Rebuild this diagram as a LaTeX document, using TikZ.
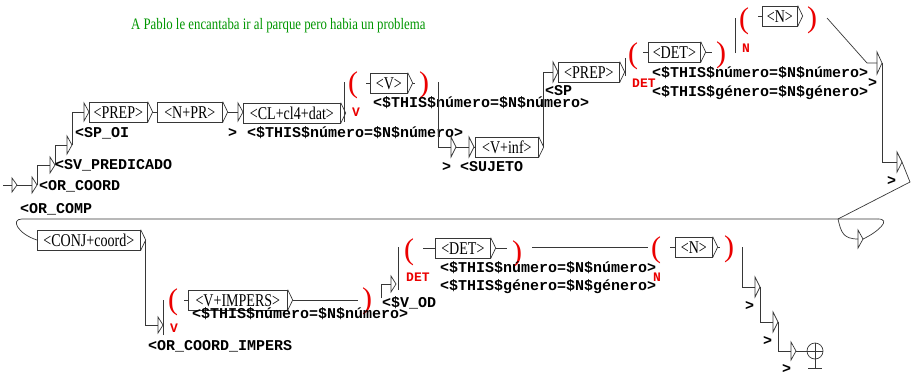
\documentclass[tikz,border=0pt]{standalone}
\usepackage{fontspec}
\setmainfont{Liberation Serif}
\newfontfamily\boxserif{Liberation Serif}[FakeStretch=0.78]
\newfontfamily\titleserif{Liberation Serif}[FakeStretch=0.8]
\newfontfamily\lmono{Liberation Mono}
\usetikzlibrary{calc}
\definecolor{ttlgreen}{RGB}{0,150,0}
\definecolor{lnc}{RGB}{55,55,55}
\definecolor{vred}{RGB}{235,0,0}
\tikzset{
  gline/.style={draw=lnc, line width=0.7pt},
  gbox/.style={draw=lnc, line width=0.7pt, fill=white, rectangle, inner sep=0pt,
    minimum height=20pt, anchor=west, font=\boxserif\fontsize{18}{18}\selectfont,
    text height=12pt, text depth=0pt},
  outtxt/.style={anchor=base west, inner sep=0pt, font=\lmono\bfseries\fontsize{15}{15}\selectfont},
  redtxt/.style={anchor=base west, inner sep=0pt, text=vred, font=\lmono\bfseries\fontsize{13}{13}\selectfont},
  redpar/.style={inner sep=0pt, text=vred, font=\fontsize{30}{30}\selectfont},
}
% empty box: name, left x, centre y, half height
\newcommand\ebx[4]{%
  \draw[gline] (#2,#3-#4) -- (#2+5,#3) -- (#2,#3+#4) -- cycle;
  \coordinate (#1) at (#2,#3);
  \coordinate (#1-o) at (#2+5,#3);
}
% box: name, left x, centre y, width, text
\newcommand\bx[5]{%
  \node[gbox, minimum width=#4pt] (#1) at (#2,#3) {#5};
  \draw[gline] (#1.north east) -- ($(#1.east)+(5,0)$) coordinate (#1-o) -- (#1.south east);
}
\begin{document}
\begin{tikzpicture}[x=1pt,y=-1pt]
\useasboundingbox (0,0) rectangle (912,378);
\fill[white] (0,0) rectangle (912,378);

% title
\node[anchor=base west, inner sep=0pt, text=ttlgreen, font=\titleserif\fontsize{16}{16}\selectfont] (title) at (131,29) {A Pablo le encantaba ir al parque pero habia un problema};

% ---------- row 1 ----------
\coordinate (s0) at (3,185);
\ebx{i0}{12}{185}{7}
\draw[gline] (s0) -- (i0);
\ebx{e1}{32}{185}{8}
\draw[gline] (i0-o) -- (e1);
\ebx{e2}{50}{165}{8}
\draw[gline] (e1-o) |- (e2);
\ebx{e3}{67}{145}{9}
\draw[gline] (e2-o) |- (e3);
\ebx{e4}{84}{112}{9}
\draw[gline] (e3-o) |- (e4);
\bx{prep1}{89}{112}{58}{<PREP>}
\bx{npr}{157}{112}{65}{<N+PR>}
\draw[gline] (prep1-o) -- (npr);
\ebx{e5}{238}{112}{9}
\draw[gline] (npr-o) -- (e5);
\bx{cl}{243}{113}{97}{<CL+cl4+dat>}

\node[outtxt] (l1) at (75,137) {<SP\_OI};
\node[outtxt] (l2) at (55,169) {<SV\_PREDICADO};
\node[outtxt] (l3) at (39,190) {<OR\_COORD};
\node[outtxt] (l4) at (20,213) {<OR\_COMP};
\node[outtxt] (l5) at (228,137) {>};
\node[outtxt] (l6) at (247,137) {<\$THIS\$número=\$N\$número>};

\coordinate (v1a) at (344,122);
\coordinate (v1b) at (344,82);
\draw[gline] (v1a) -- (v1b);
\node[redpar] (lp1) at (353,85) {(};
\node[redtxt] (vl1) at (352,116) {V};
\coordinate (d1a) at (366,83);
\bx{vbox}{370}{83}{37}{<V>}
\draw[gline] (d1a) -- (vbox.west);
\coordinate (d1b) at (415,83);
\draw[gline] (vbox-o) -- (d1b);
\node[redpar] (rp1) at (424,85) {)};
\node[outtxt] (l7) at (373,107) {<\$THIS\$número=\$N\$número>};

\coordinate (v2a) at (438,82);
\ebx{e6}{451}{147}{10}
\draw[gline] (v2a) |- (e6);
\ebx{e7}{469}{147}{10}
\draw[gline] (e6-o) -- (e7);
\bx{vinf}{475}{147}{63}{<V+inf>}
\draw[gline] (e7-o) -- (vinf);
\node[outtxt] (l8) at (442,171) {> <SUJETO};

\ebx{e8}{553}{72}{10}
\draw[gline] (vinf-o) |- (e8);
\bx{prep2}{558}{72}{61}{<PREP>}
\node[outtxt] (l9) at (545,95) {<SP};
\coordinate (v3a) at (625,76);
\coordinate (v3b) at (625,58);
\draw[gline] (v3a) -- (v3b);

\node[redpar] (lp2) at (633,56) {(};
\node[redtxt] (dl1) at (632,87) {DET};
\coordinate (d2a) at (643,52);
\bx{det1}{648}{52}{52}{<DET>}
\draw[gline] (d2a) -- (det1.west);
\coordinate (d2b) at (712,52);
\draw[gline] (det1-o) -- (d2b);
\node[redpar] (rp2) at (721,55) {)};

\coordinate (v4a) at (735,53);
\coordinate (v4b) at (735,18);
\draw[gline] (v4a) -- (v4b);
\node[redpar] (lp3) at (744,21) {(};
\node[redtxt] (nl1) at (742,52) {N};
\coordinate (d3a) at (758,16);
\bx{nbox1}{762}{16}{35}{<N>}
\draw[gline] (d3a) -- (nbox1.west);
\node[redpar] (rp3) at (812,20) {)};

\node[outtxt] (l10) at (652,77) {<\$THIS\$número=\$N\$número>};
\node[outtxt] (l11) at (652,96) {<\$THIS\$género=\$N\$género>};
\node[outtxt] (l12) at (868,87) {>};

\coordinate (dg1) at (827,18);
\coordinate (dg2) at (867,63);
\ebx{e9}{877}{63}{11}
\draw[gline] (dg1) -- (dg2) -- (e9);
\ebx{e10}{897}{162}{10}
\draw[gline] (e9-o) |- (e10);
\node[outtxt] (l13) at (887,185) {>};

% ---------- link to row 2 ----------
\coordinate (k1) at (910,182);
\coordinate (j1) at (838,219);
\coordinate (j0) at (22,219);
\coordinate (j2) at (878,219);
\bx{conj}{37}{240}{103}{<CONJ+coord>}
\draw[gline] (e10-o) -- (k1) -- (j1);
\draw[gline] (j2) -- (j0) .. controls (10,219) and (18,234) .. (conj.west);
\ebx{e11}{858}{239}{9}
\draw[gline] (j1) .. controls (841,232) and (843,239) .. (e11);
\draw[gline] (e11-o) .. controls (878,232) and (892,219) .. (j2);

% ---------- row 2 ----------
\ebx{e12}{158}{325}{8}
\draw[gline] (conj-o) |- (e12);
\coordinate (v5a) at (163,335);
\coordinate (v5b) at (163,300);
\draw[gline] (v5a) -- (v5b);
\node[redpar] (lp4) at (173,302) {(};
\node[redtxt] (vl2) at (170,332) {V};
\node[outtxt] (l14) at (148,350) {<OR\_COORD\_IMPERS};
\coordinate (d4a) at (184,300);
\bx{vimp}{188}{300}{99}{<V+IMPERS>}
\draw[gline] (d4a) -- (vimp.west);
\coordinate (d4b) at (358,300);
\draw[gline] (vimp-o) -- (d4b);
\node[redpar] (rp4) at (367,301) {)};
\node[outtxt] (l15) at (192,318) {<\$THIS\$número=\$N\$número>};

\coordinate (v6a) at (381,298);
\ebx{e13}{391}{284}{8}
\draw[gline] (v6a) |- (e13);
\coordinate (v7a) at (398,290);
\coordinate (v7b) at (398,247);
\draw[gline] (v7a) -- (v7b);
\node[outtxt] (l16) at (382,307) {<\$V\_OD};

\node[redpar] (lp5) at (409,252) {(};
\node[redtxt] (dl2) at (406,281) {DET};
\coordinate (d5a) at (423,248);
\bx{det2}{435}{248}{55}{<DET>}
\draw[gline] (d5a) -- (det2.west);
\coordinate (d5b) at (507,248);
\draw[gline] (det2-o) -- (d5b);
\node[redpar] (rp5) at (517,254) {)};
\coordinate (h1a) at (532,247);
\coordinate (h1b) at (648,247);
\draw[gline] (h1a) -- (h1b);
\node[outtxt] (l17) at (440,272) {<\$THIS\$número=\$N\$número>};
\node[outtxt] (l18) at (440,290) {<\$THIS\$género=\$N\$género>};

\node[redpar] (lp6) at (656,250) {(};
\node[redtxt] (nl2) at (653,281) {N};
\coordinate (d6a) at (670,247);
\bx{nbox2}{675}{247}{37}{<N>}
\draw[gline] (d6a) -- (nbox2.west);
\coordinate (d6b) at (720,247);
\draw[gline] (nbox2-o) -- (d6b);
\node[redpar] (rp6) at (729,249) {)};

\coordinate (v8a) at (742,247);
\ebx{e14}{755}{287}{10}
\draw[gline] (v8a) |- (e14);
\node[outtxt] (l19) at (745,310) {>};
\ebx{e15}{773}{322}{10}
\draw[gline] (e14-o) |- (e15);
\node[outtxt] (l20) at (763,345) {>};
\ebx{e16}{791}{351}{9}
\draw[gline] (e15-o) |- (e16);
\node[outtxt] (l21) at (782,373) {>};

\node[circle, draw=lnc, line width=0.7pt, minimum size=16pt, inner sep=0pt] (fin) at (815,351) {};
\draw[gline] (e16-o) -- (fin.west);
\draw[gline] (fin.north) -- (fin.south);
\draw[gline] (fin.west) -- (fin.east);
\coordinate (fs) at (815,368);
\coordinate (fb1) at (808,368);
\coordinate (fb2) at (822,368);
\draw[gline] (fin.south) -- (fs);
\draw[gline] (fb1) -- (fb2);
\end{tikzpicture}
\end{document}
